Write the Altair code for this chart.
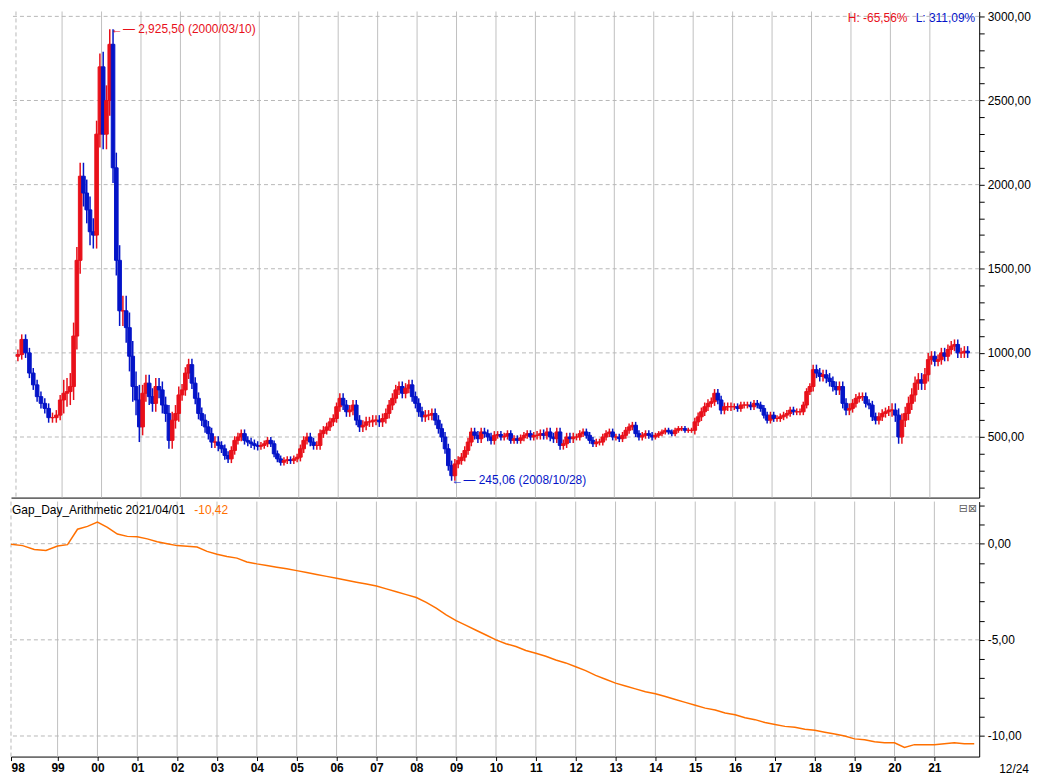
import altair as alt
import pandas as pd

FONT = "Liberation Sans, Arial, sans-serif"
RED = "#e8101a"
BLUE = "#0414c8"
ORANGE = "#ff7000"

# ---------------- data ----------------
YEAR_LABELS = ["98", "99", "00", "01", "02", "03", "04", "05", "06", "07", "08", "09",
               "10", "11", "12", "13", "14", "15", "16", "17", "18", "19", "20", "21"]
# trading days per year (1998 still had Saturday sessions)
YEAR_DAYS = [290] + [248] * 23
# typical monthly high-low band thickness read per year (index points)
YEAR_SPREAD = [60, 160, 180, 100, 70, 50, 40, 50, 60, 60, 60, 50,
               40, 50, 40, 40, 30, 50, 40, 40, 60, 50, 80, 60]

# monthly closes
OPEN_START = 980
close_1998 = [990, 1080, 1000, 880, 810, 740, 700, 670, 615, 615, 630, 720]
close_1999 = [760, 770, 800, 1100, 1550, 2050, 1950, 1850, 1720, 1700, 2300, 2700]
close_2000 = [2300, 2500, 2834, 2100, 1550, 1250, 1250, 1150, 980, 800, 720, 560]
close_2001 = [760, 820, 740, 700, 800, 780, 690, 640, 480, 600, 640, 750]
close_2002 = [780, 880, 930, 820, 730, 640, 600, 560, 520, 470, 470, 450]
close_2003 = [430, 390, 370, 420, 480, 500, 520, 480, 470, 460, 450, 445]
close_2004 = [450, 460, 480, 460, 400, 370, 350, 360, 365, 360, 370, 380]
close_2005 = [430, 480, 500, 470, 450, 450, 520, 540, 560, 590, 610, 680]
close_2006 = [730, 690, 650, 660, 690, 600, 560, 570, 590, 590, 600, 600]
close_2007 = [590, 610, 640, 690, 730, 780, 800, 760, 790, 810, 740, 700]
close_2008 = [650, 620, 630, 630, 640, 600, 550, 500, 430, 330, 270, 340]
close_2009 = [360, 380, 420, 470, 530, 510, 490, 530, 520, 500, 480, 510]
close_2010 = [515, 500, 505, 520, 480, 490, 480, 495, 510, 520, 500, 510]
close_2011 = [510, 520, 510, 530, 500, 490, 530, 450, 460, 500, 490, 500]
close_2012 = [500, 520, 530, 510, 480, 460, 470, 470, 500, 520, 530, 500]
close_2013 = [500, 490, 510, 540, 560, 570, 520, 500, 510, 520, 510, 500]
close_2014 = [510, 520, 530, 540, 530, 520, 540, 550, 550, 540, 540, 540]
close_2015 = [590, 620, 650, 680, 700, 710, 760, 720, 660, 680, 680, 680]
close_2016 = [680, 670, 690, 690, 690, 680, 700, 690, 670, 630, 600, 630]
close_2017 = [610, 610, 620, 630, 640, 660, 650, 650, 650, 690, 770, 800]
close_2018 = [900, 880, 860, 870, 850, 830, 800, 780, 800, 700, 660, 670]
close_2019 = [700, 730, 740, 740, 700, 690, 620, 600, 620, 640, 650, 660]
close_2020 = [660, 630, 500, 600, 640, 700, 750, 820, 840, 820, 870, 960]
close_2021 = [980, 950, 960, 1000, 980, 1020, 1040, 1050, 1000, 1000, 1010, 1000]
CLOSES = [close_1998, close_1999, close_2000, close_2001, close_2002, close_2003,
          close_2004, close_2005, close_2006, close_2007, close_2008, close_2009,
          close_2010, close_2011, close_2012, close_2013, close_2014, close_2015,
          close_2016, close_2017, close_2018, close_2019, close_2020, close_2021]

# Gap_Day_Arithmetic, value at the start of each quarter
gap_1998_2003 = [-0.03, -0.1, -0.3, -0.35, -0.12, -0.05, 0.75, 0.9,
                 1.12, 0.85, 0.5, 0.38, 0.36, 0.25, 0.1, 0.0,
                 -0.1, -0.13, -0.17, -0.4, -0.55, -0.67, -0.75, -0.95]
gap_2004_2009 = [-1.05, -1.13, -1.22, -1.3, -1.4, -1.5, -1.6, -1.7,
                 -1.8, -1.9, -2.0, -2.1, -2.2, -2.35, -2.5, -2.65,
                 -2.8, -3.05, -3.35, -3.7, -4.0, -4.25, -4.5, -4.75]
gap_2010_2015 = [-5.0, -5.2, -5.35, -5.55, -5.7, -5.85, -6.05, -6.2,
                 -6.4, -6.6, -6.85, -7.05, -7.25, -7.4, -7.55, -7.7,
                 -7.8, -7.95, -8.1, -8.25, -8.4, -8.55, -8.65, -8.8]
gap_2016_2021 = [-8.9, -9.05, -9.15, -9.3, -9.4, -9.5, -9.55, -9.65,
                 -9.7, -9.8, -9.9, -10.0, -10.15, -10.2, -10.3, -10.35,
                 -10.35, -10.6, -10.45, -10.45, -10.45, -10.4, -10.35, -10.4]
GAP_END = -10.4

PEAK_VALUE, PEAK_LABEL, PEAK_YEAR_IDX, PEAK_DOY = 2925.50, "2,925,50 (2000/03/10)", 2, 69
LOW_VALUE, LOW_LABEL, LOW_YEAR_IDX, LOW_DOY = 245.06, "245,06 (2008/10/28)", 10, 301

H_TEXT = "H: -65,56%"
L_TEXT = "L: 311,09%"
TITLE_TEXT = "Gap_Day_Arithmetic  2021/04/01"
LAST_TEXT = "-10,42"
PAGE_TEXT = "12/24"

MAIN_GRID = [500, 1000, 1500, 2000, 2500, 3000]
MAIN_TICKS = list(range(200, 3001, 100))
SUB_GRID = [0, -5, -10]
SUB_TICKS = list(range(-10, 3))

# ---------------- layout ----------------
W, H1, H2 = 972, 488, 256
X_DOMAIN = [0, 6025]
Y1_DOMAIN = [140, 3029]
Y2_DOMAIN = [-11.07, 2.19]

year_starts = []
acc = 0
for d in YEAR_DAYS:
    year_starts.append(acc)
    acc += d
total_days = acc

rows = []
prev = OPEN_START
for i, closes in enumerate(CLOSES):
    for m, c in enumerate(closes):
        pos = year_starts[i] + (m + 0.5) / 12 * YEAR_DAYS[i]
        half = YEAR_SPREAD[i] / 2
        rows.append({"pos": pos, "open": prev, "close": c,
                     "lo": min(prev, c) - half, "hi": max(prev, c) + half,
                     "dir": "up" if c >= prev else "down"})
        prev = c
bars_df = pd.DataFrame(rows)

gap_vals = gap_1998_2003 + gap_2004_2009 + gap_2010_2015 + gap_2016_2021
grow = []
for i in range(len(YEAR_DAYS)):
    for q in range(4):
        grow.append({"pos": year_starts[i] + q / 4 * YEAR_DAYS[i], "g": gap_vals[i * 4 + q]})
grow.append({"pos": total_days, "g": GAP_END})
gap_df = pd.DataFrame(grow)

ann_df = pd.DataFrame([
    {"pos": year_starts[PEAK_YEAR_IDX] + PEAK_DOY / 366 * YEAR_DAYS[PEAK_YEAR_IDX],
     "v": PEAK_VALUE, "t": "\u2190\u2014 " + PEAK_LABEL, "c": RED},
    {"pos": year_starts[LOW_YEAR_IDX] + LOW_DOY / 366 * YEAR_DAYS[LOW_YEAR_IDX],
     "v": LOW_VALUE, "t": "\u2190\u2014 " + LOW_LABEL, "c": BLUE},
])

xs = alt.Scale(domain=X_DOMAIN, nice=False, zero=False)
y1s = alt.Scale(domain=Y1_DOMAIN, nice=False, zero=False)
y2s = alt.Scale(domain=Y2_DOMAIN, nice=False, zero=False)

x_label_expr = ("[" + ",".join("'" + l + "'" for l in YEAR_LABELS) + "][indexof(["
                + ",".join(str(v) for v in year_starts) + "], datum.value)]")

main_xaxis = alt.Axis(values=year_starts, labels=False, ticks=False, domain=True,
                      domainColor="black", grid=False, title=None)
sub_xaxis = alt.Axis(values=year_starts, labelExpr=x_label_expr, ticks=True, tickSize=4,
                     domain=True, domainColor="black", grid=False, title=None,
                     labelFontWeight="bold", labelFontSize=12, labelPadding=2,
                     labelOverlap=False)
main_yaxis = alt.Axis(orient="right", values=MAIN_TICKS, grid=False, title=None,
                      labelExpr="datum.value % 500 === 0 ? datum.value + ',00' : ''",
                      tickSize=5, labelPadding=3, labelOverlap=False, labelFlush=False)
sub_yaxis = alt.Axis(orient="right", values=SUB_TICKS, grid=False, title=None,
                     labelExpr="datum.value % 5 === 0 ? datum.value + ',00' : ''",
                     tickSize=5, labelPadding=3, labelOverlap=False, labelFlush=False)


def X1():
    return alt.X("pos:Q", scale=xs, axis=main_xaxis)


def X2():
    return alt.X("pos:Q", scale=xs, axis=sub_xaxis)


dir_scale = alt.Scale(domain=["up", "down"], range=[RED, BLUE])

# ---------------- main panel ----------------
vgrid1 = alt.Chart(pd.DataFrame({"pos": year_starts[1:]})).mark_rule(
    color="#c0c0c0", strokeWidth=1).encode(x=X1())
vgrid1_0 = alt.Chart(pd.DataFrame({"pos": [0]})).mark_rule(
    color="#b8b8b8", strokeDash=[4, 3]).encode(x=X1())
hgrid1 = alt.Chart(pd.DataFrame({"v": MAIN_GRID})).mark_rule(
    color="#b8b8b8", strokeDash=[4, 3]).encode(y=alt.Y("v:Q", scale=y1s, axis=main_yaxis))
wicks = alt.Chart(bars_df).mark_rule(strokeWidth=1.5).encode(
    x=X1(),
    y=alt.Y("lo:Q", scale=y1s, axis=main_yaxis),
    y2="hi:Q",
    color=alt.Color("dir:N", scale=dir_scale, legend=None),
)
bars = alt.Chart(bars_df).mark_bar(size=3.6, strokeWidth=1.0).encode(
    x=X1(),
    y=alt.Y("open:Q", scale=y1s, axis=main_yaxis),
    y2="close:Q",
    fill=alt.Fill("dir:N", scale=dir_scale, legend=None),
    stroke=alt.Stroke("dir:N", scale=dir_scale, legend=None),
)
ann = alt.Chart(ann_df).mark_text(align="left", baseline="middle", dx=2,
                                  font=FONT, fontSize=12).encode(
    x=X1(), y=alt.Y("v:Q", scale=y1s, axis=main_yaxis),
    text="t:N", color=alt.Color("c:N", scale=None))
htxt = alt.Chart(pd.DataFrame({"t": [H_TEXT]})).mark_text(
    align="right", baseline="middle", font=FONT, fontSize=12, color=RED).encode(
    x=alt.value(900), y=alt.value(7), text="t:N")
ltxt = alt.Chart(pd.DataFrame({"t": [L_TEXT]})).mark_text(
    align="right", baseline="middle", font=FONT, fontSize=12, color=BLUE).encode(
    x=alt.value(968), y=alt.value(7), text="t:N")

main = alt.layer(vgrid1, vgrid1_0, hgrid1, wicks, bars, ann, htxt, ltxt).properties(width=W, height=H1)

# ---------------- lower panel ----------------
vgrid2 = alt.Chart(pd.DataFrame({"pos": year_starts[1:]})).mark_rule(
    color="#c0c0c0", strokeWidth=1).encode(x=X2())
vgrid2_0 = alt.Chart(pd.DataFrame({"pos": [0]})).mark_rule(
    color="#b8b8b8", strokeDash=[4, 3]).encode(x=X2())
hgrid2 = alt.Chart(pd.DataFrame({"v": SUB_GRID})).mark_rule(
    color="#b8b8b8", strokeDash=[4, 3]).encode(y=alt.Y("v:Q", scale=y2s, axis=sub_yaxis))
gline = alt.Chart(gap_df).mark_line(color=ORANGE, strokeWidth=1.5).encode(
    x=X2(), y=alt.Y("g:Q", scale=y2s, axis=sub_yaxis))
ttl = alt.Chart(pd.DataFrame({"t": [TITLE_TEXT]})).mark_text(
    align="left", baseline="middle", font=FONT, fontSize=12, color="black").encode(
    x=alt.value(1), y=alt.value(8), text="t:N")
last = alt.Chart(pd.DataFrame({"t": [LAST_TEXT]})).mark_text(
    align="left", baseline="middle", font=FONT, fontSize=12, color=ORANGE).encode(
    x=alt.value(184), y=alt.value(8), text="t:N")
btns = alt.Chart(pd.DataFrame({"t": ["\u229f\u22a0"]})).mark_text(
    align="right", baseline="middle", font="DejaVu Sans", fontSize=11, color="#606060").encode(
    x=alt.value(W - 2), y=alt.value(7), text="t:N")
page = alt.Chart(pd.DataFrame({"t": [PAGE_TEXT]})).mark_text(
    align="right", baseline="middle", font=FONT, fontSize=12, color="black").encode(
    x=alt.value(W + 50), y=alt.value(H2 + 12), text="t:N")

sub = alt.layer(vgrid2, vgrid2_0, hgrid2, gline, ttl, last, btns, page).properties(width=W, height=H2)

chart = alt.vconcat(main, sub, spacing=0).properties(padding=0).configure_view(
    stroke=None
).configure_axis(
    labelFont=FONT, labelFontSize=12, labelColor="black",
    domainColor="black", tickColor="black", titleFont=FONT
)

chart.save("out.html", embed_options={"renderer": "svg", "actions": False})
